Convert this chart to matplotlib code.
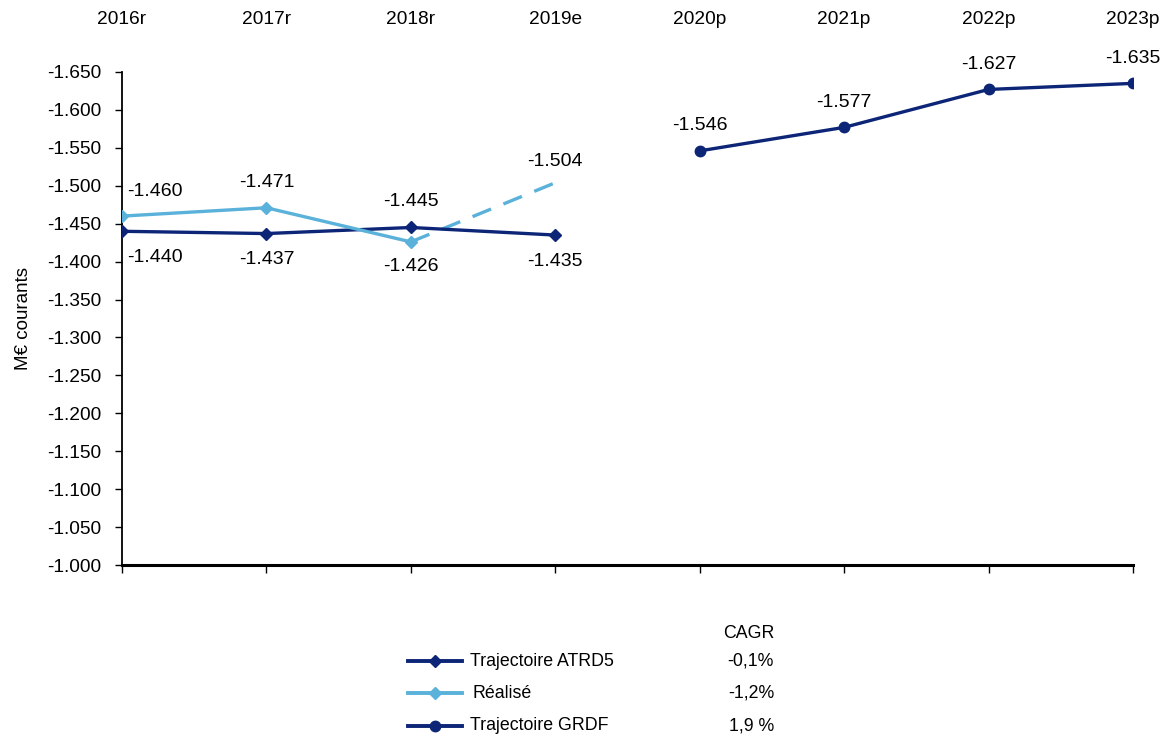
import matplotlib
matplotlib.use("Agg")
import matplotlib.pyplot as plt
from matplotlib.lines import Line2D
import matplotlib.transforms as mtransforms

plt.rcParams['font.family'] = ['Liberation Sans', 'DejaVu Sans']

categories = ["2016r", "2017r", "2018r", "2019e", "2020p", "2021p", "2022p", "2023p"]
atrd5 = [-1.440, -1.437, -1.445, -1.435]          # 2016r-2019e
realise = [-1.460, -1.471, -1.426]                 # 2016r-2018r
realise_est = [-1.426, -1.504]                     # 2018r-2019e (dashed)
grdf = [-1.546, -1.577, -1.627, -1.635]            # 2020p-2023p
yticks = [-1.000, -1.050, -1.100, -1.150, -1.200, -1.250, -1.300, -1.350,
          -1.400, -1.450, -1.500, -1.550, -1.600, -1.650]
cagr_labels = ["-0,1%", "-1,2%", "1,9 %"]
series_names = ["Trajectoire ATRD5", "Réalisé", "Trajectoire GRDF"]

NAVY = "#0C2577"
LIGHT = "#5AB1D9"

fig = plt.figure(figsize=(11.72, 7.38), dpi=100)
ax = fig.add_axes([122/1172, 1-565/738, (1133-122)/1172, (565-72)/738])

x_atrd = list(range(0, 4))
x_real = list(range(0, 3))
x_real_est = [2, 3]
x_grdf = list(range(4, 8))

ax.plot(x_atrd, atrd5, color=NAVY, lw=2.4, marker='D', ms=6.5, zorder=3)
ax.plot(x_real, realise, color=LIGHT, lw=2.4, marker='D', ms=6.5, zorder=3)
ax.plot(x_real_est, realise_est, color=LIGHT, lw=2.4, dashes=(6, 4), zorder=2)
ax.plot(x_grdf, grdf, color=NAVY, lw=2.4, marker='o', ms=7.5, zorder=3)

ax.set_xlim(0, 7)
ax.set_ylim(-1.000, -1.650)
ax.set_yticks(yticks)
ax.set_yticklabels([f"{v:.3f}" for v in yticks], fontsize=13.8)
ax.set_xticks(range(len(categories)))
ax.set_xticklabels([])
ax.tick_params(axis='x', direction='out', length=6, width=1)
ax.tick_params(axis='y', direction='out', length=5, width=1, pad=10)
ax.spines['top'].set_visible(False)
ax.spines['right'].set_visible(False)
ax.spines['bottom'].set_linewidth(2.2)
ax.spines['left'].set_linewidth(1.3)
ax.set_ylabel("M€ courants", fontsize=13.5)
ax.yaxis.set_label_coords(-0.089, 0.50)

# category labels at top
trans = mtransforms.blended_transform_factory(ax.transData, fig.transFigure)
for i, c in enumerate(categories):
    ax.text(i, 1 - 20/738, c, transform=trans, ha='center', va='center',
            fontsize=13.8, clip_on=False)

fs = 14
def lbl(x, y, s, dy, dx=0):
    ax.annotate(s, (x, y), xytext=(dx, dy), textcoords='offset points',
                ha='center', va='center', fontsize=fs, annotation_clip=False)

# ATRD5 labels (below, except 2018 above)
lbl(0, atrd5[0], f"{atrd5[0]:.3f}", -19, 24)
lbl(1, atrd5[1], f"{atrd5[1]:.3f}", -19)
lbl(2, atrd5[2], f"{atrd5[2]:.3f}", 19)
lbl(3, atrd5[3], f"{atrd5[3]:.3f}", -19)
# Réalisé labels
lbl(0, realise[0], f"{realise[0]:.3f}", 18, 24)
lbl(1, realise[1], f"{realise[1]:.3f}", 18)
lbl(2, realise[2], f"{realise[2]:.3f}", -18)
lbl(3, realise_est[1], f"{realise_est[1]:.3f}", 15)
# GRDF labels (above)
for xi, v in zip(x_grdf, grdf):
    lbl(xi, v, f"{v:.3f}", 18)

# Legend
leg_y = [661, 693, 726]
styles = [(NAVY, 'D', 6.5), (LIGHT, 'D', 6.5), (NAVY, 'o', 7.5)]
for (col, mk, ms), yy, name, cg in zip(styles, leg_y, series_names, cagr_labels):
    yf = 1 - yy/738
    fig.add_artist(Line2D([408/1172, 462/1172], [yf, yf], color=col, lw=2.8,
                          transform=fig.transFigure))
    fig.add_artist(Line2D([435/1172], [yf], color=col, marker=mk, ms=ms,
                          transform=fig.transFigure))
    fig.text(470/1172 if name != "Réalisé" else 472/1172, yf, name,
             fontsize=12.8, va='center', ha='left')
    fig.text(774/1172, yf, cg, fontsize=12.8, va='center', ha='right')
fig.text(749/1172, 1 - 633/738, "CAGR", fontsize=12.8, va='center', ha='center')

fig.savefig("out.png", dpi=100)
